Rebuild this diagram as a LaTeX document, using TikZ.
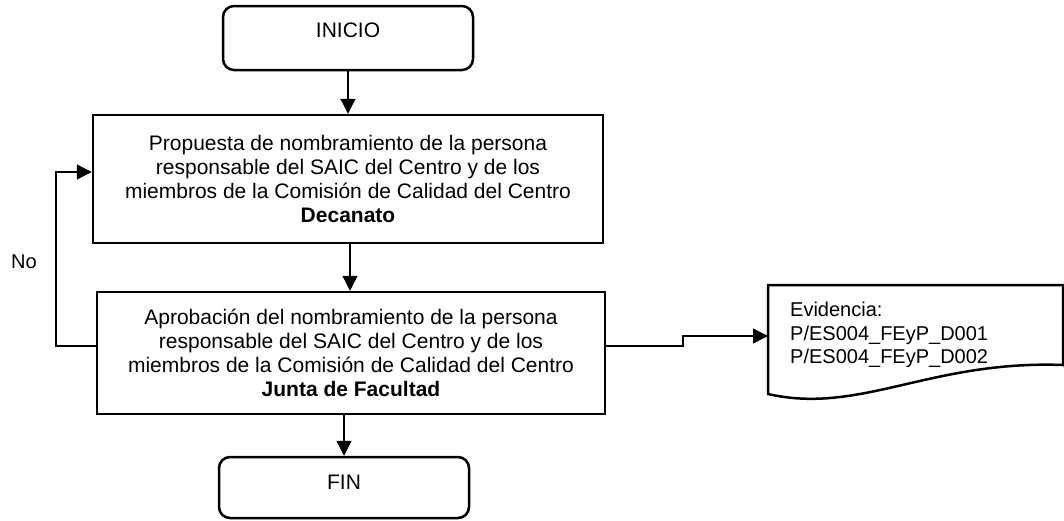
\documentclass[tikz,border=0pt]{standalone}
\usepackage{fontspec}
\setmainfont{Liberation Sans}
\usetikzlibrary{arrows.meta}
\begin{document}
\begin{tikzpicture}[x=1pt,y=-1pt,
  term/.style={draw,line width=2.5pt,rounded corners=11pt,inner sep=0pt,
               font=\fontsize{21}{24}\selectfont},
  proc/.style={draw,line width=2.5pt,inner sep=0pt,align=center,
               font=\fontsize{21}{24}\selectfont},
  conn/.style={line width=1.3pt,-{Triangle[length=15pt,width=15pt]}},
  plain/.style={line width=1.3pt},
  lbl/.style={inner sep=0pt,font=\fontsize{20}{23.5}\selectfont}
]
\useasboundingbox (0,0) rectangle (1064,520);

% terminals
\node[term, minimum width=250pt, minimum height=64pt] (ini) at (348,38) {};
\node[inner sep=0pt,font=\fontsize{21}{24}\selectfont] (initxt) at (348,30) {INICIO};
\node[term, minimum width=250pt, minimum height=61pt] (fin) at (344,487.5) {};
\node[inner sep=0pt,font=\fontsize{21}{24}\selectfont] (fintxt) at (344,482) {FIN};

% process boxes
\node[proc, minimum width=510pt, minimum height=128pt] (b1) at (348,179)
  {Propuesta de nombramiento de la persona\\
   responsable del SAIC del Centro y de los\\
   miembros de la Comisión de Calidad del Centro\\
   \textbf{Decanato}};
\node[proc, minimum width=508pt, minimum height=122pt] (b2) at (351,353)
  {Aprobación del nombramiento de la persona\\
   responsable del SAIC del Centro y de los\\
   miembros de la Comisión de Calidad del Centro\\
   \textbf{Junta de Facultad}};

% evidence document
\draw[line width=2.5pt] (768,394) -- (768,285) -- (1063,285) -- (1063,365)
  .. controls (930,360) and (860,415) .. (768,394) -- cycle;
\node[lbl, anchor=north west, align=left] (ev) at (790,302)
  {Evidencia:\\P/ES004\_FEyP\_D001\\P/ES004\_FEyP\_D002};

% label
\node[inner sep=0pt,font=\fontsize{20}{23}\selectfont] (no) at (24,262) {No};

% helper coordinates
\coordinate (x350) at (350,0);
\coordinate (fbTop) at (56,172);
\coordinate (fbBot) at (56,346);
\coordinate (jog) at (683,346);
\coordinate (evin) at (768,336);

% connectors
\draw[conn] (ini.south) -- (ini.south |- b1.north);
\draw[conn] (b1.south -| x350) -- (b2.north -| x350);
\draw[conn] (fin.north |- b2.south) -- (fin.north);
\draw[conn] (b2.west |- fbBot) -- (fbBot) -- (fbTop) -- (b1.west |- fbTop);
\draw[conn] (b2.east |- jog) -- (jog) |- (evin);
\end{tikzpicture}
\end{document}
